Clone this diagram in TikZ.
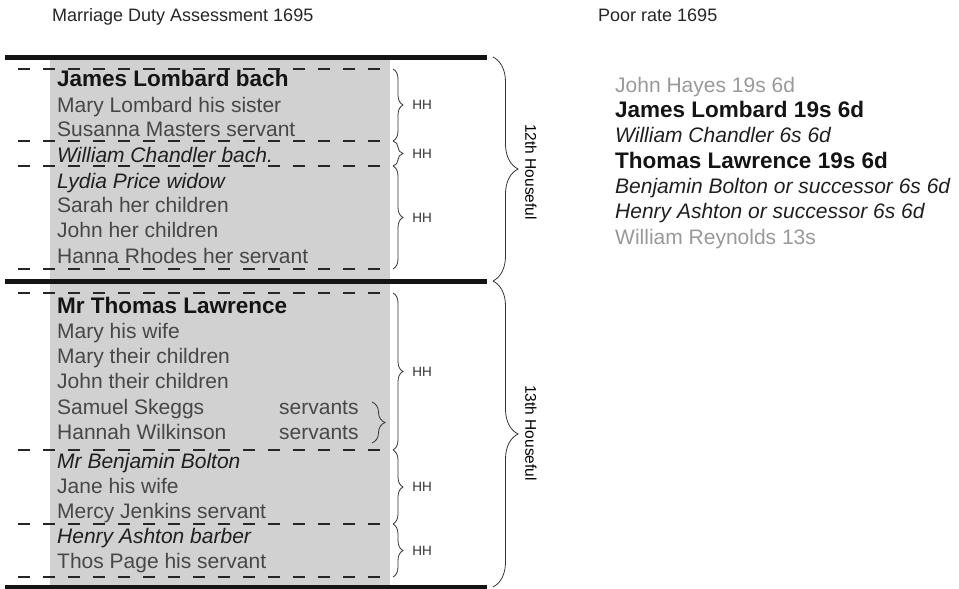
\documentclass[tikz,border=0pt]{standalone}
\usepackage{fontspec}
\setmainfont{Liberation Sans}
\usepackage{tikz}
\usetikzlibrary{matrix}
\usetikzlibrary{decorations.pathreplacing}
\colorlet{dgray}{black!72}
\colorlet{lgray}{black!40}
\colorlet{panel}{black!18}
\newcommand\sz[1]{\fontsize{#1}{#1}\selectfont}
\tikzstyle{member}=[anchor=base west,inner sep=0pt,text=dgray,font=\sz{21}]
\tikzstyle{master}=[member,text=black!92,font=\sz{22.5}\bfseries]
\tikzstyle{lodger}=[member,text=black!88,font=\sz{21}\itshape]
\tikzstyle{heading}=[member,text=black!85,font=\sz{18}]
\tikzstyle{rule}=[line width=5pt,black!92]
\tikzstyle{split}=[line width=1.6pt,black!85,dash pattern=on 12pt off 13pt]
\tikzstyle{hh}=[line width=.8pt,black!80,decorate,decoration={brace,amplitude=10pt}]
\tikzstyle{house}=[line width=.8pt,black!80,decorate,decoration={brace,amplitude=25pt}]
\tikzstyle{tag}=[inner sep=0pt,anchor=west,font=\sz{13.5}]
\tikzstyle{housetag}=[inner sep=0pt,anchor=center,rotate=-90,font=\sz{15.5}]

\begin{document}
\begin{tikzpicture}[x=1pt,y=-1pt]
	\useasboundingbox (0,0) rectangle (959,589);
	\fill[panel] (50,60) rectangle (390,589);
	\node[heading] (md) at (52,21)  {Marriage Duty Assessment 1695};
	\node[heading] (pr) at (598,21) {Poor rate 1695};
	% households, thick rules and dashed splits
	\foreach \i/\y in {1/57,2/281,3/587} {
		\coordinate (r\i) at (5,\y); \coordinate (e\i) at (487,\y); \coordinate (h\i) at (493,\y);
		\draw[rule] (r\i) -- (e\i);
	}
	\foreach \i/\y in {1/69,2/141,3/166,4/269,5/293,6/450,7/524,8/577} {
		\coordinate (a\i) at (18,\y); \coordinate (b\i) at (380,\y); \coordinate (c\i) at (393,\y);
		\draw[split] (a\i) -- (b\i);
	}
	% 12th houseful
	\node[master] (l1)  at (57,86)  {James Lombard bach};
	\node[member] (l2)  at (57,112) {Mary Lombard his sister};
	\node[member] (l3)  at (57,136) {Susanna Masters servant};
	\node[lodger] (l4)  at (57,162) {William Chandler bach.};
	\node[lodger] (l5)  at (57,188) {Lydia Price widow};
	\node[member] (l6)  at (57,212) {Sarah her children};
	\node[member] (l7)  at (57,237) {John her children};
	\node[member] (l8)  at (57,263) {Hanna Rhodes her servant};
	% 13th houseful
	\node[master] (l9)  at (57,313) {Mr Thomas Lawrence};
	\node[member] (l10) at (57,338) {Mary his wife};
	\node[member] (l11) at (57,363) {Mary their children};
	\node[member] (l12) at (57,388) {John their children};
	\node[member] (l13) at (57,414) {Samuel Skeggs};
	\node[member] (l14) at (57,439) {Hannah Wilkinson};
	\node[member] (s1)  at (279,414) {servants};
	\node[member] (s2)  at (279,439) {servants};
	\node[lodger] (l15) at (57,468) {Mr Benjamin Bolton};
	\node[member] (l16) at (57,493) {Jane his wife};
	\node[member] (l17) at (57,518) {Mercy Jenkins servant};
	\node[lodger] (l18) at (57,543) {Henry Ashton barber};
	\node[member] (l19) at (57,568) {Thos Page his servant};
	\coordinate (sv1) at (372,402); \coordinate (sv2) at (372,443);
	\draw[hh,decoration={amplitude=13pt}] (sv1) -- (sv2);
	% HH braces
	\foreach \i/\j in {1/2,2/3,3/4,5/6,6/7,7/8}
		\draw[hh] (c\i) -- node[tag,xshift=19pt] (hh\i) {HH} (c\j);
	\draw[house] (h1) -- (h2);
	\draw[house] (h2) -- (h3);
	\node[housetag] (n12) at (531,172) {12th Houseful};
	\node[housetag] (n13) at (531,433) {13th Houseful};
	% poor rate
	\matrix [matrix of nodes,anchor=north west,inner sep=0pt,row sep=4.3pt,
		nodes={member,anchor=base west,text height=16pt,text depth=5pt}] (p) at (615,76) {
		|[text=lgray]| John Hayes 19s 6d \\
		|[master]| James Lombard 19s 6d \\
		|[lodger]| William Chandler 6s 6d \\
		|[master]| Thomas Lawrence 19s 6d \\
		|[lodger]| Benjamin Bolton or successor 6s 6d \\
		|[lodger]| Henry Ashton or successor 6s 6d \\
		|[text=lgray]| William Reynolds 13s \\
	};
\end{tikzpicture}
\end{document}
